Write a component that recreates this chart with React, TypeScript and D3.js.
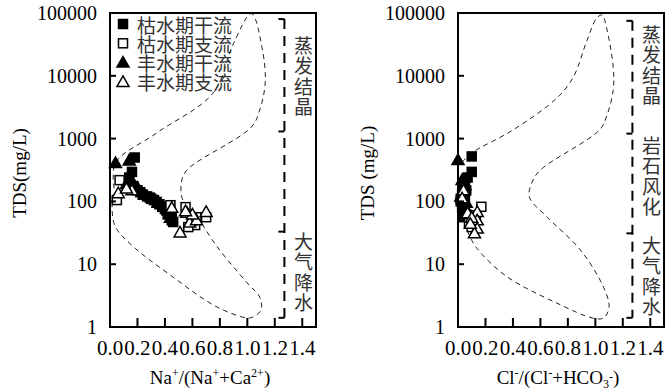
import React from "react";
import * as d3 from "d3";

// tick values
const TDS_TICKS = [1, 10, 100, 1000, 10000, 100000];
const X_TICKS = [0, 0.2, 0.4, 0.6, 0.8, 1.0, 1.2, 1.4];

// series names
const SERIES = ["枯水期干流", "枯水期支流", "丰水期干流", "丰水期支流"];

// Na+/(Na+ + Ca2+) vs TDS
const naDryMain = [
  [0.18, 500], [0.16, 295], [0.14, 240], [0.13, 200], [0.17, 175], [0.2, 150],
  [0.22, 140], [0.24, 128], [0.27, 120], [0.29, 115], [0.3, 110], [0.32, 105],
  [0.34, 98], [0.36, 90], [0.38, 82], [0.4, 76], [0.41, 72], [0.42, 62],
  [0.43, 65], [0.44, 60], [0.45, 55], [0.45, 50], [0.46, 47]
];
const naDryTrib = [
  [0.07, 218], [0.05, 105], [0.44, 87], [0.55, 81], [0.63, 56], [0.7, 56],
  [0.62, 42], [0.57, 39], [0.6, 50]
];
const naWetMain = [
  [0.04, 410], [0.14, 450], [0.12, 190], [0.15, 230], [0.13, 170], [0.2, 165],
  [0.25, 130], [0.35, 95], [0.44, 55]
];
const naWetTrib = [
  [0.06, 135], [0.16, 150], [0.12, 160], [0.45, 79], [0.56, 66], [0.51, 32],
  [0.58, 46], [0.7, 68], [0.63, 50], [0.6, 62], [0.55, 70]
];

// Cl-/(Cl- + HCO3-) vs TDS
const clDryMain = [
  [0.1, 520], [0.1, 295], [0.07, 240], [0.05, 200], [0.04, 170], [0.06, 150],
  [0.03, 130], [0.05, 115], [0.02, 100], [0.04, 90], [0.03, 80], [0.05, 70],
  [0.06, 62], [0.04, 56]
];
const clDryTrib = [[0.17, 82], [0.1, 39], [0.08, 45], [0.13, 60], [0.02, 110]];
const clWetMain = [[0.0, 455], [0.03, 220], [0.05, 180], [0.02, 120], [0.06, 95]];
const clWetTrib = [
  [0.04, 150], [0.03, 112], [0.14, 68], [0.14, 50], [0.14, 37], [0.07, 65],
  [0.12, 31], [0.1, 55], [0.09, 44]
];

// Gibbs envelopes
const naEnvelope = [
  [0.03, 160], [0.04, 410], [0.34, 1230], [0.75, 5300], [0.9, 33000], [1.03, 98000],
  [1.11, 25800], [1.13, 7700], [1.09, 2850], [1.03, 1530], [0.56, 316], [0.52, 204],
  [0.53, 105], [0.6, 73], [0.78, 19], [1.0, 5], [1.09, 3], [1.1, 1.87],
  [1.04, 1.44], [1.0, 1.39], [0.78, 2.08], [0.42, 7.2], [0.17, 19], [0.04, 39],
  [0.015, 73], [0.02, 120]
];
const clEnvelope = [
  [0.03, 420], [0.1, 590], [0.4, 1370], [0.72, 4430], [0.84, 9570], [0.94, 37000],
  [1.01, 83000], [1.05, 93000], [1.08, 60000], [1.13, 13800], [1.13, 5900],
  [1.08, 2200], [1.03, 1370], [0.6, 316], [0.54, 204], [0.52, 117], [0.65, 56],
  [0.89, 17], [1.06, 4.3], [1.1, 2.08], [1.06, 1.39], [0.98, 1.39], [0.72, 2.4],
  [0.36, 6.25], [0.16, 15.6], [0.1, 24], [0.05, 45], [0.03, 90]
];

// zone brackets (TDS bounds) and labels
const naZones = [[80000, 1300], [1300, 33], [33, 1.4]];
const naZoneLabels = ["蒸发结晶", "", "大气降水"];
const clZones = [[75000, 1200], [1200, 31], [31, 1.4]];
const clZoneLabels = ["蒸发结晶", "岩石风化", "大气降水"];

const TOP = 13;
const BOTTOM = 327;
const serif = "'Liberation Serif', 'Times New Roman', serif";
const cjk = "'Noto Sans CJK SC', sans-serif";

function Marker({ kind, x, y }) {
  const filled = kind === 0 || kind === 2;
  const fill = filled ? "#000" : "#fff";
  if (kind < 2) {
    return <rect x={x - 4.5} y={y - 4.5} width={9} height={9} fill={fill} stroke="#000" strokeWidth={1.5} />;
  }
  const p = `M${x},${y - 6} L${x + 6},${y + 4.5} L${x - 6},${y + 4.5} Z`;
  return <path d={p} fill={fill} stroke="#000" strokeWidth={1.5} strokeLinejoin="miter" />;
}

function Panel({ left, series, envelope, zones, zoneLabels, labelCenters, yLabel, xLabel, legend }) {
  const x = d3.scaleLinear().domain([0, 1.5]).range([left, left + 206]);
  const y = d3.scaleLog().domain([1, 100000]).range([BOTTOM, TOP]);
  const line = d3.line().x(d => x(d[0])).y(d => y(d[1])).curve(d3.curveCatmullRom.alpha(0.5));
  const bx = x(1.27);
  const midX = (left + left + 206) / 2;

  return (
    <g>
      {/* envelope */}
      <path d={line(envelope)} fill="none" stroke="#222" strokeWidth={1} strokeDasharray="5,4" />

      {/* zone brackets */}
      <line x1={bx} x2={bx} y1={y(zones[0][0])} y2={y(zones[2][1])} stroke="#000" strokeWidth={2} strokeDasharray="10,7" />
      {[zones[0][0], zones[1][0], zones[2][0], zones[2][1]].map((v, i) => (
        <line key={i} x1={bx - 6} x2={bx} y1={y(v)} y2={y(v)} stroke="#000" strokeWidth={2} />
      ))}
      {zoneLabels.map((lab, i) =>
        lab.split("").map((c, j) => (
          <text key={i + "-" + j} x={bx + 19} y={labelCenters[i] + (j - 1.5) * 20.5} fontFamily={cjk}
            fontSize={19} fill="#333" textAnchor="middle" dominantBaseline="central">{c}</text>
        ))
      )}

      {/* points */}
      {series.map((pts, k) =>
        pts.map((d, i) => <Marker key={k + "-" + i} kind={k} x={x(d[0])} y={y(d[1])} />)
      )}

      {/* frame */}
      <rect x={left} y={TOP} width={206} height={BOTTOM - TOP} fill="none" stroke="#000" strokeWidth={2} />

      {/* y axis */}
      {TDS_TICKS.map(t => (
        <g key={t}>
          <line x1={left} x2={left + 6} y1={y(t)} y2={y(t)} stroke="#000" strokeWidth={2} />
          <text x={left - 13} y={y(t)} textAnchor="end" dominantBaseline="central" fontFamily={serif} fontSize={20}>{t}</text>
        </g>
      ))}
      {/* x axis */}
      {X_TICKS.map(t => (
        <g key={t}>
          <line x1={x(t)} x2={x(t)} y1={BOTTOM} y2={BOTTOM - 9} stroke="#000" strokeWidth={2} />
          <text x={x(t)} y={355} textAnchor="middle" fontFamily={serif} fontSize={21}>{t.toFixed(1)}</text>
        </g>
      ))}

      <text transform={`translate(${left - 84},173) rotate(-90)`} textAnchor="middle" fontFamily={serif} fontSize={19}>{yLabel}</text>
      <text x={midX - 3} y={384} textAnchor="middle" fontFamily={serif} fontSize={19}>{xLabel}</text>

      {legend && SERIES.map((s, i) => (
        <g key={s}>
          <Marker kind={i} x={left + 13} y={24 + i * 19.3} />
          <text x={left + 27} y={24 + i * 19.3} dominantBaseline="central" fontFamily={cjk} fontSize={19} fill="#333">{s}</text>
        </g>
      ))}
    </g>
  );
}

export default function App() {
  const sup = (s) => <tspan dy={-7} fontSize={12}>{s}</tspan>;
  const naLabel = (
    <>
      Na{sup("+")}<tspan dy={7}>/(Na</tspan>{sup("+")}<tspan dy={7}>+Ca</tspan>{sup("2+")}<tspan dy={7}>)</tspan>
    </>
  );
  const clLabel = (
    <>
      Cl{sup("-")}<tspan dy={7}>/(Cl</tspan>{sup("-")}<tspan dy={7}>+HCO</tspan>
      <tspan dy={4} fontSize={12}>3</tspan>{sup("-")}<tspan dy={3}>)</tspan>
    </>
  );
  return (
    <svg width={668} height={392} style={{ position: "absolute", left: 0, top: 0, background: "#fff" }}>
      <Panel
        left={110}
        series={[naDryMain, naDryTrib, naWetMain, naWetTrib]}
        envelope={naEnvelope}
        zones={naZones}
        zoneLabels={naZoneLabels}
        labelCenters={[75, 175, 271]}
        yLabel="TDS(mg/L)"
        xLabel={naLabel}
        legend
      />
      <Panel
        left={458}
        series={[clDryMain, clDryTrib, clWetMain, clWetTrib]}
        envelope={clEnvelope}
        zones={clZones}
        zoneLabels={clZoneLabels}
        labelCenters={[64, 175, 275]}
        yLabel="TDS (mg/L)"
        xLabel={clLabel}
        legend={false}
      />
    </svg>
  );
}
